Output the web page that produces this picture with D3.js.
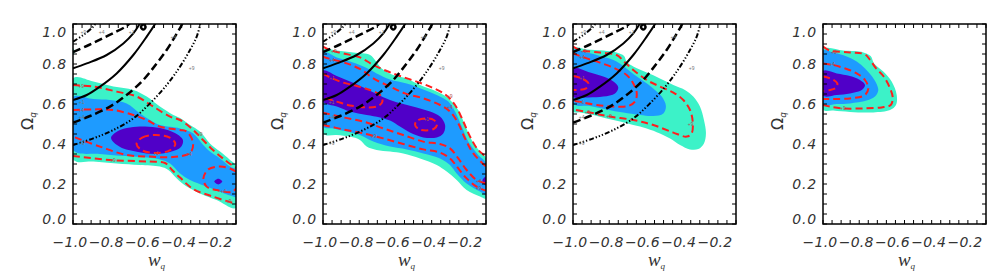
<!DOCTYPE html>
<html><head><meta charset="utf-8">
<script src="https://cdn.jsdelivr.net/npm/d3@7"></script>
<style>body{margin:0;background:#fff;}svg{display:block;}</style>
</head><body><svg id="c" width="1008" height="273"></svg>
<script>
// ---------- axis data ----------
const xTicks = [-1.0, -0.8, -0.6, -0.4, -0.2];
const yTicks = [0.0, 0.2, 0.4, 0.6, 0.8, 1.0];
const xDomain = [-1.0, -0.1];
const yDomain = [0.0, 1.0];
const xTitle = "w", yTitle = "\u03A9", subTitle = "q";

// ---------- black contours (panels 1-3), [w, Omega] ----------
const blkSolidA = [[-1.0,0.778],[-0.924,0.803],[-0.814,0.845],[-0.722,0.903],[-0.667,0.953],[-0.636,0.995],[-0.62,1.02]];
const blkSolidB = [[-1.0,0.62],[-0.924,0.645],[-0.851,0.687],[-0.759,0.753],[-0.667,0.845],[-0.593,0.937],[-0.547,1.0],[-0.53,1.03]];
const blkDashA = [[-1.0,0.86],[-0.924,0.89],[-0.851,0.922],[-0.777,0.955],[-0.704,0.99],[-0.68,1.01]];
const blkDashB = [[-1.0,0.507],[-0.906,0.54],[-0.796,0.587],[-0.704,0.645],[-0.612,0.72],[-0.538,0.803],[-0.483,0.87],[-0.437,0.937],[-0.4,0.995],[-0.39,1.02]];
const blkDotA = [[-1.0,0.912],[-0.943,0.945],[-0.888,0.987],[-0.87,1.01]];
const blkDotB = [[-1.0,0.395],[-0.888,0.428],[-0.777,0.47],[-0.667,0.528],[-0.575,0.603],[-0.483,0.695],[-0.409,0.787],[-0.354,0.87],[-0.317,0.937],[-0.299,0.995],[-0.295,1.02]];
const blkLoop = [[-0.625,0.985],[-0.612,0.998],[-0.599,0.985],[-0.612,0.972]];
const blkLabels = [["+9",-0.943,0.962],["+4",-0.842,0.962],["+1",-0.676,0.962],["+4",-0.446,0.937],["+9",-0.345,0.778],["+1",-0.952,0.612],["+4",-0.952,0.537],["+9",-0.952,0.403]];

// ---------- panel 1 ----------
const p1Aqua = [[-1.0,0.728],[-0.888,0.712],[-0.777,0.687],[-0.667,0.67],[-0.593,0.637],[-0.52,0.587],[-0.446,0.545],[-0.409,0.53],[-0.354,0.495],[-0.299,0.462],[-0.244,0.403],[-0.188,0.362],[-0.133,0.32],[-0.1,0.29],[-0.1,0.08],[-0.207,0.12],[-0.299,0.153],[-0.372,0.187],[-0.427,0.228],[-0.474,0.27],[-0.52,0.287],[-0.63,0.295],[-0.759,0.303],[-0.888,0.312],[-1.0,0.323]];
const p1AquaBlob = [[-1.0,0.878],[-0.99,0.862],[-1.0,0.846],[-1.01,0.862]];
const p1Blue = [[-1.0,0.635],[-0.888,0.625],[-0.796,0.62],[-0.704,0.603],[-0.63,0.553],[-0.575,0.52],[-0.52,0.495],[-0.409,0.478],[-0.336,0.453],[-0.281,0.395],[-0.244,0.362],[-0.188,0.328],[-0.133,0.287],[-0.1,0.27],[-0.1,0.135],[-0.115,0.137],[-0.262,0.187],[-0.354,0.22],[-0.409,0.253],[-0.464,0.303],[-0.52,0.323],[-0.667,0.337],[-0.851,0.35],[-1.0,0.37]];
const p1Purple = [[-0.79,0.43],[-0.752,0.465],[-0.685,0.483],[-0.602,0.488],[-0.52,0.48],[-0.437,0.455],[-0.393,0.42],[-0.404,0.385],[-0.464,0.36],[-0.547,0.35],[-0.641,0.36],[-0.74,0.385]];
const p1PurpleSmall = [[-0.22,0.212],[-0.198,0.226],[-0.176,0.212],[-0.198,0.198]];
const p1Red1 = [[-0.649,0.40],[-0.618,0.432],[-0.542,0.445],[-0.466,0.432],[-0.435,0.40],[-0.466,0.368],[-0.542,0.355],[-0.618,0.368]];
const p1RedLoop = [[-0.28,0.228],[-0.253,0.273],[-0.188,0.287],[-0.115,0.27],[-0.08,0.24],[-0.115,0.163],[-0.207,0.17],[-0.262,0.187]];
const p1Red4 = [[-1.0,0.57],[-0.888,0.573],[-0.777,0.57],[-0.667,0.545],[-0.593,0.52],[-0.52,0.487],[-0.409,0.47],[-0.372,0.462],[-0.337,0.405],[-0.354,0.355],[-0.448,0.335],[-0.575,0.337],[-0.704,0.345],[-0.851,0.387],[-1.0,0.437]];
const p1Red9Up = [[-1.0,0.695],[-0.888,0.687],[-0.759,0.662],[-0.648,0.637],[-0.557,0.587],[-0.464,0.537],[-0.409,0.52],[-0.336,0.47],[-0.282,0.42],[-0.227,0.37],[-0.161,0.32],[-0.1,0.28]];
const p1Red9Lo = [[-1.0,0.34],[-0.796,0.32],[-0.575,0.312],[-0.492,0.305],[-0.453,0.27],[-0.409,0.232],[-0.337,0.175],[-0.227,0.137],[-0.1,0.1]];
const p1RedLabels = [["+9",-0.955,0.692],["+4",-0.955,0.57],["+1",-0.54,0.355],["+9",-0.78,0.32],["+4",-0.36,0.35],["+9",-0.3,0.45],["+4",-0.17,0.165],["+9",-0.14,0.115]];

// ---------- panel 2 ----------
const p2Aqua = [[-1.0,0.87],[-0.924,0.867],[-0.833,0.857],[-0.74,0.845],[-0.713,0.82],[-0.676,0.778],[-0.612,0.745],[-0.538,0.728],[-0.464,0.695],[-0.372,0.662],[-0.308,0.628],[-0.253,0.57],[-0.216,0.495],[-0.179,0.42],[-0.133,0.362],[-0.1,0.328],[-0.1,0.128],[-0.133,0.137],[-0.207,0.17],[-0.262,0.22],[-0.317,0.262],[-0.372,0.295],[-0.464,0.328],[-0.557,0.353],[-0.63,0.362],[-0.704,0.37],[-0.759,0.387],[-0.796,0.42],[-0.851,0.437],[-0.924,0.445],[-1.0,0.453]];
const p2Blue = [[-1.0,0.857],[-0.924,0.833],[-0.851,0.812],[-0.777,0.787],[-0.704,0.753],[-0.63,0.723],[-0.538,0.703],[-0.446,0.673],[-0.372,0.645],[-0.308,0.612],[-0.271,0.562],[-0.234,0.487],[-0.198,0.412],[-0.143,0.345],[-0.1,0.303],[-0.1,0.145],[-0.133,0.162],[-0.207,0.203],[-0.262,0.253],[-0.299,0.295],[-0.354,0.328],[-0.446,0.353],[-0.538,0.373],[-0.63,0.387],[-0.722,0.412],[-0.796,0.445],[-0.869,0.462],[-0.943,0.478],[-1.0,0.487]];
const p2Purple = [[-1.0,0.767],[-0.924,0.74],[-0.851,0.712],[-0.777,0.683],[-0.704,0.65],[-0.63,0.62],[-0.557,0.6],[-0.483,0.583],[-0.409,0.562],[-0.354,0.537],[-0.326,0.495],[-0.336,0.453],[-0.372,0.433],[-0.446,0.433],[-0.52,0.457],[-0.575,0.487],[-0.63,0.517],[-0.685,0.533],[-0.759,0.545],[-0.851,0.562],[-0.924,0.587],[-1.0,0.612]];
const p2PurpleSmall = [[-0.12,0.215],[-0.1,0.237],[-0.08,0.215],[-0.1,0.193]];
const p2Red1a = [[-1.0,0.75],[-0.906,0.712],[-0.814,0.69],[-0.74,0.67],[-0.685,0.645],[-0.672,0.612],[-0.695,0.59],[-0.759,0.583],[-0.851,0.593],[-0.924,0.612],[-1.0,0.633]];
const p2Red1b = [[-0.492,0.498],[-0.474,0.52],[-0.431,0.528],[-0.388,0.52],[-0.37,0.498],[-0.388,0.476],[-0.431,0.468],[-0.474,0.476]];
const p2Red4Up = [[-1.0,0.837],[-0.971,0.828],[-0.869,0.803],[-0.786,0.77],[-0.722,0.728],[-0.63,0.687],[-0.547,0.653],[-0.446,0.628],[-0.354,0.595],[-0.299,0.562],[-0.253,0.503],[-0.216,0.428],[-0.17,0.353],[-0.1,0.287]];
const p2Red4Lo = [[-1.0,0.557],[-0.888,0.533],[-0.777,0.512],[-0.667,0.478],[-0.557,0.445],[-0.446,0.412],[-0.354,0.4],[-0.299,0.378],[-0.253,0.328],[-0.207,0.27],[-0.152,0.22],[-0.1,0.203]];
const p2Red9Up = [[-1.0,0.887],[-0.961,0.87],[-0.888,0.853],[-0.796,0.833],[-0.722,0.795],[-0.648,0.765],[-0.575,0.74],[-0.483,0.712],[-0.4,0.683],[-0.326,0.648],[-0.271,0.595],[-0.225,0.512],[-0.188,0.437],[-0.143,0.37],[-0.1,0.337]];
const p2Red9Lo = [[-1.0,0.495],[-0.888,0.473],[-0.777,0.453],[-0.667,0.428],[-0.557,0.4],[-0.446,0.373],[-0.354,0.357],[-0.299,0.328],[-0.253,0.278],[-0.207,0.228],[-0.152,0.187],[-0.1,0.167]];
const p2RedLabels = [["+9",-0.94,0.865],["+4",-0.95,0.822],["+1",-0.95,0.73],["+1",-0.43,0.525],["+9",-0.3,0.64],["+4",-0.3,0.585],["+9",-0.72,0.44],["+4",-0.14,0.215],["+9",-0.14,0.18]];

// ---------- panel 3 ----------
const p3Aqua = [[-1.0,0.878],[-0.924,0.873],[-0.833,0.867],[-0.759,0.857],[-0.718,0.84],[-0.704,0.812],[-0.667,0.787],[-0.593,0.757],[-0.52,0.728],[-0.446,0.695],[-0.382,0.67],[-0.336,0.637],[-0.299,0.587],[-0.277,0.52],[-0.266,0.453],[-0.277,0.403],[-0.308,0.375],[-0.354,0.373],[-0.409,0.395],[-0.464,0.428],[-0.52,0.453],[-0.593,0.478],[-0.667,0.495],[-0.74,0.512],[-0.814,0.528],[-0.888,0.545],[-0.961,0.558],[-1.0,0.562]];
const p3Blue = [[-1.0,0.87],[-0.924,0.857],[-0.851,0.84],[-0.777,0.82],[-0.722,0.79],[-0.667,0.75],[-0.612,0.715],[-0.557,0.678],[-0.51,0.637],[-0.487,0.59],[-0.501,0.553],[-0.557,0.54],[-0.63,0.545],[-0.722,0.557],[-0.814,0.573],[-0.906,0.59],[-1.0,0.603]];
const p3Purple = [[-1.0,0.778],[-0.906,0.757],[-0.833,0.737],[-0.777,0.712],[-0.75,0.683],[-0.768,0.653],[-0.833,0.637],[-0.924,0.633],[-1.0,0.637]];
const p3Red1 = [[-1.0,0.74],[-0.952,0.728],[-0.915,0.703],[-0.928,0.678],[-0.971,0.67],[-1.0,0.67]];
const p3Red4 = [[-1.0,0.853],[-0.924,0.828],[-0.851,0.807],[-0.768,0.778],[-0.704,0.745],[-0.667,0.703],[-0.648,0.653],[-0.658,0.612],[-0.695,0.59],[-0.777,0.587],[-0.869,0.595],[-0.943,0.607],[-1.0,0.617]];
const p3Red9 = [[-1.0,0.887],[-0.961,0.87],[-0.851,0.857],[-0.759,0.845],[-0.718,0.812],[-0.667,0.77],[-0.593,0.72],[-0.52,0.687],[-0.446,0.657],[-0.391,0.62],[-0.354,0.57],[-0.339,0.512],[-0.345,0.453],[-0.372,0.437],[-0.446,0.457],[-0.557,0.495],[-0.667,0.52],[-0.796,0.537],[-0.906,0.557],[-1.0,0.573]];
const p3RedLabels = [["+9",-0.94,0.865],["+4",-0.95,0.835],["+1",-0.95,0.73],["+9",-0.35,0.5],["+9",-0.92,0.56],["+9",-0.8,0.54]];

// ---------- panel 4 ----------
const p4Aqua = [[-1.0,0.873],[-0.888,0.867],[-0.777,0.858],[-0.737,0.84],[-0.718,0.803],[-0.667,0.762],[-0.621,0.712],[-0.593,0.645],[-0.597,0.595],[-0.63,0.57],[-0.722,0.558],[-0.851,0.56],[-0.943,0.567],[-1.0,0.573]];
const p4Blue = [[-1.0,0.867],[-0.943,0.857],[-0.869,0.837],[-0.814,0.812],[-0.768,0.778],[-0.731,0.74],[-0.704,0.7],[-0.695,0.667],[-0.713,0.637],[-0.759,0.617],[-0.851,0.603],[-0.924,0.6],[-1.0,0.6]];
const p4Purple = [[-1.0,0.765],[-0.924,0.753],[-0.851,0.74],[-0.796,0.72],[-0.768,0.695],[-0.786,0.67],[-0.851,0.653],[-0.924,0.645],[-1.0,0.642]];
const p4Red1 = [[-1.0,0.737],[-0.952,0.725],[-0.921,0.703],[-0.928,0.682],[-0.961,0.67],[-1.0,0.665]];
const p4Red4 = [[-1.0,0.803],[-0.943,0.795],[-0.879,0.778],[-0.814,0.753],[-0.768,0.72],[-0.75,0.678],[-0.768,0.645],[-0.851,0.628],[-0.943,0.625],[-1.0,0.625]];
const p4Red9 = [[-1.0,0.887],[-0.961,0.867],[-0.851,0.858],[-0.768,0.848],[-0.74,0.82],[-0.707,0.778],[-0.667,0.74],[-0.634,0.687],[-0.615,0.633],[-0.626,0.595],[-0.676,0.583],[-0.777,0.578],[-0.888,0.578],[-0.961,0.587],[-1.0,0.595]];
const p4RedLabels = [["+9",-0.94,0.862],["+4",-0.95,0.8],["+9",-0.89,0.578]];

// ---------- drawing ----------
const AQ = "#3cf2c8", BL = "#1e9bff", PU = "#5000c8", RED = "#ff1e1e";
const M = {left: 73, top: 24, w: 163, h: 200};
const offsets = [0, 250, 500, 750];
const FONT = "DejaVu Sans";

const panels = [
  {fills: [[p1Aqua,AQ],[p1AquaBlob,AQ],[p1Blue,BL],[p1Purple,PU],[p1PurpleSmall,PU]], redClosed: [p1Red1,p1RedLoop], redOpen: [p1Red4,p1Red9Up,p1Red9Lo], redLabels: p1RedLabels, black: true},
  {fills: [[p2Aqua,AQ],[p2Blue,BL],[p2Purple,PU],[p2PurpleSmall,PU]], redClosed: [p2Red1b], redOpen: [p2Red1a,p2Red4Up,p2Red4Lo,p2Red9Up,p2Red9Lo], redLabels: p2RedLabels, black: true},
  {fills: [[p3Aqua,AQ],[p3Blue,BL],[p3Purple,PU]], redClosed: [], redOpen: [p3Red1,p3Red4,p3Red9], redLabels: p3RedLabels, black: true},
  {fills: [[p4Aqua,AQ],[p4Blue,BL],[p4Purple,PU]], redClosed: [], redOpen: [p4Red1,p4Red4,p4Red9], redLabels: p4RedLabels, black: false}
];

const svg = d3.select("#c");
const x = d3.scaleLinear().domain(xDomain).range([0, M.w]);
const y = d3.scaleLinear().domain(yDomain).range([M.h, 0]);
const closedLine = d3.line().x(d => x(d[0])).y(d => y(d[1])).curve(d3.curveCatmullRomClosed.alpha(0.5));
const openLine = d3.line().x(d => x(d[0])).y(d => y(d[1])).curve(d3.curveCatmullRom.alpha(0.5));

const blackStyles = [
  [blkSolidA, "none", 2], [blkSolidB, "none", 2],
  [blkDashA, "8,4", 2.5], [blkDashB, "8,4", 2.5],
  [blkDotA, "5,2,1.3,2,1.3,2,1.3,2", 2], [blkDotB, "5,2,1.3,2,1.3,2,1.3,2", 2]
];

panels.forEach((cfg, i) => {
  const g = svg.append("g").attr("transform", `translate(${offsets[i]},0)`);
  const pg = g.append("g").attr("transform", `translate(${M.left},${M.top})`);
  const cid = "clip" + i;
  pg.append("clipPath").attr("id", cid).append("rect").attr("width", M.w).attr("height", M.h);
  const inner = pg.append("g").attr("clip-path", `url(#${cid})`);

  cfg.fills.forEach(([pts, col]) => inner.append("path").attr("d", closedLine(pts)).attr("fill", col));

  cfg.redClosed.forEach(pts => inner.append("path").attr("d", closedLine(pts))
    .attr("fill", "none").attr("stroke", RED).attr("stroke-width", 2).attr("stroke-dasharray", "7,4"));
  cfg.redOpen.forEach(pts => inner.append("path").attr("d", openLine(pts))
    .attr("fill", "none").attr("stroke", RED).attr("stroke-width", 2).attr("stroke-dasharray", "7,4"));
  cfg.redLabels.forEach(([t, w, o]) => inner.append("text").attr("x", x(w)).attr("y", y(o))
    .attr("font-family", "Liberation Sans").attr("font-size", 5).attr("fill", "#b05050")
    .attr("text-anchor", "middle").attr("dominant-baseline", "central").text(t));

  if (cfg.black) {
    blackStyles.forEach(([pts, dash, sw]) => inner.append("path").attr("d", openLine(pts))
      .attr("fill", "none").attr("stroke", "#000").attr("stroke-width", sw)
      .attr("stroke-dasharray", dash === "none" ? null : dash));
    inner.append("path").attr("d", closedLine(blkLoop)).attr("fill", "none").attr("stroke", "#000").attr("stroke-width", 2.4);
    blkLabels.forEach(([t, w, o]) => inner.append("text").attr("x", x(w)).attr("y", y(o))
      .attr("font-family", "Liberation Sans").attr("font-size", 5).attr("fill", "#777")
      .attr("text-anchor", "middle").attr("dominant-baseline", "central").text(t));
  }

  // frame
  pg.append("rect").attr("width", M.w).attr("height", M.h).attr("fill", "none")
    .attr("stroke", "#000").attr("stroke-width", 1.5);

  // ticks (all four sides, inward)
  const tl = 4;
  x.ticks(18).forEach(v => {
    const px = x(v);
    pg.append("line").attr("x1", px).attr("x2", px).attr("y1", M.h).attr("y2", M.h - tl).attr("stroke", "#000").attr("stroke-width", 1);
    pg.append("line").attr("x1", px).attr("x2", px).attr("y1", 0).attr("y2", tl).attr("stroke", "#000").attr("stroke-width", 1);
  });
  y.ticks(20).forEach(v => {
    const py = y(v);
    pg.append("line").attr("x1", 0).attr("x2", tl).attr("y1", py).attr("y2", py).attr("stroke", "#000").attr("stroke-width", 1);
    pg.append("line").attr("x1", M.w).attr("x2", M.w - tl).attr("y1", py).attr("y2", py).attr("stroke", "#000").attr("stroke-width", 1);
  });

  // y tick labels
  yTicks.forEach(v => {
    const py = Math.min(Math.max(y(v), 8), 194.5);
    pg.append("text").attr("x", -6).attr("y", py + 5.1)
      .attr("font-family", FONT).attr("font-style", "italic").attr("font-size", 14)
      .attr("letter-spacing", 0.8).attr("fill", "#333").attr("text-anchor", "end").text(v.toFixed(1));
  });
  // x tick labels
  xTicks.forEach(v => {
    pg.append("text").attr("x", x(v) - 3).attr("y", M.h + 23)
      .attr("font-family", FONT).attr("font-style", "italic").attr("font-size", 14)
      .attr("letter-spacing", 0.2).attr("fill", "#333").attr("text-anchor", "middle")
      .text("\u2212" + Math.abs(v).toFixed(1));
  });

  // axis titles
  const xt = g.append("text").attr("x", M.left + M.w / 2 + 2).attr("y", 266)
    .attr("font-family", "Liberation Serif").attr("font-style", "italic").attr("font-size", 19)
    .attr("fill", "#333").attr("text-anchor", "middle");
  xt.append("tspan").text(xTitle);
  xt.append("tspan").attr("font-size", 9).attr("dy", 3).text(subTitle);

  const yt = g.append("text").attr("transform", `translate(33,121) rotate(-90)`)
    .attr("font-family", FONT).attr("font-size", 16)
    .attr("fill", "#333").attr("text-anchor", "middle");
  yt.append("tspan").text(yTitle);
  yt.append("tspan").attr("font-size", 9).attr("font-style", "italic").attr("dy", 3).text(subTitle);
});
</script></body></html>
